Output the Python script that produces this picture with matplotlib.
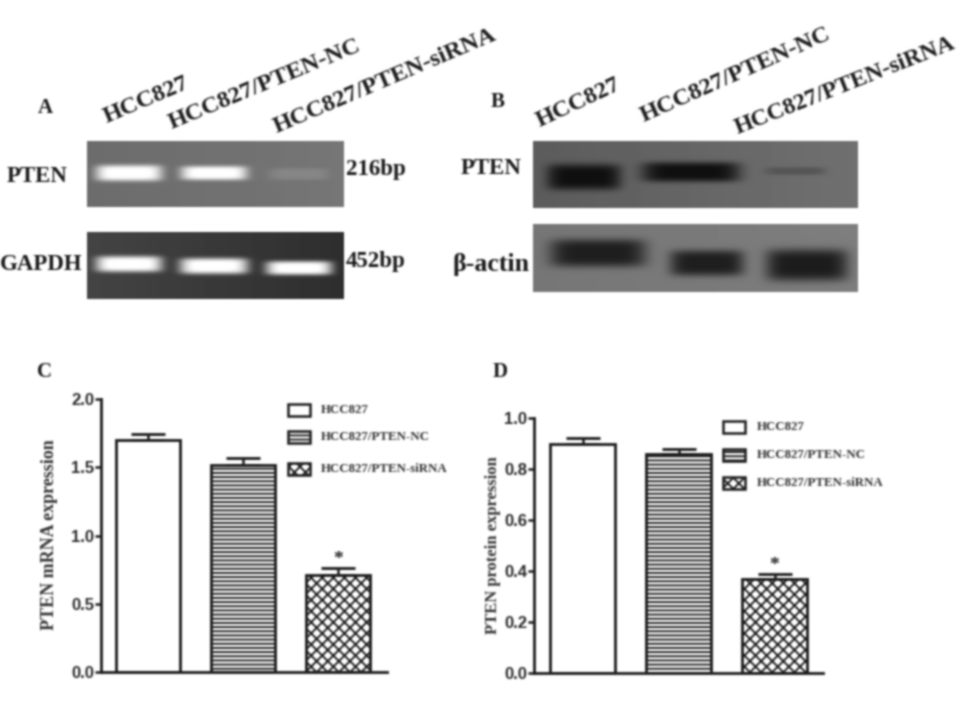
import numpy as np
import matplotlib
matplotlib.use("Agg")
import matplotlib.pyplot as plt
from matplotlib.patches import Rectangle

plt.rcParams["font.family"] = ["Liberation Serif", "DejaVu Serif"]
plt.rcParams["hatch.linewidth"] = 1.35
plt.rcParams["hatch.color"] = "#1c1c1c"

W, H = 960, 720

groups = ["HCC827", "HCC827/PTEN-NC", "HCC827/PTEN-siRNA"]
hatches = [None, "----", "xxx"]

mrna_vals = [1.70, 1.52, 0.71]
mrna_err = [0.04, 0.05, 0.05]
mrna_ticks = [0.0, 0.5, 1.0, 1.5, 2.0]

protein_vals = [0.90, 0.86, 0.37]
protein_err = [0.02, 0.02, 0.02]
protein_ticks = [0.0, 0.2, 0.4, 0.6, 0.8, 1.0]

# gel / blot bands: centre x, centre y, half width, half height, peak grey
bands_pten_gel = [(129, 173, 33, 8, 262), (214, 173, 33, 7, 262), (299, 174, 30, 6, 135)]
bands_gapdh_gel = [(129, 264, 33, 8, 262), (214, 266, 34, 8, 262), (299, 268, 33, 7, 262)]
bands_pten_wb = [(584, 177, 37, 13, 15), (691, 172, 49, 10, 15), (795, 171, 30, 4, 85)]
bands_actin_wb = [(598, 253, 48, 14, 30), (707, 263, 37, 13, 30), (807, 265, 41, 16, 28)]


def px_axes(fig, left, right, top, bottom):
    return fig.add_axes([left / W, 1 - bottom / H, (right - left) / W, (bottom - top) / H])


def blur(image, dpi):
    # the reference is a soft, low-quality scan
    kernel = np.array([0.06, 0.24, 0.4, 0.24, 0.06])
    out = image
    for axis in (0, 1):
        pad = [(2, 2) if a == axis else (0, 0) for a in range(3)]
        padded = np.pad(out, pad, mode="edge")
        out = np.apply_along_axis(lambda r: np.convolve(r, kernel, mode="valid"), axis, padded)
    return out, 0, 0


def draw_blot(ax, x0, x1, y0, y1, bg_left, bg_right, bands):
    xs = np.arange(x0, x1) + 0.5
    ys = np.arange(y0, y1) + 0.5
    xx, yy = np.meshgrid(xs, ys)
    img = bg_left + (bg_right - bg_left) * (xx - x0) / (x1 - x0)
    for cx, cy, hw, hh, peak in bands:
        prof = np.exp(-np.abs((xx - cx) / hw) ** 6 - np.abs((yy - cy) / hh) ** 4)
        img = img + (peak - img) * prof
    ax.imshow(img, cmap="gray", vmin=0, vmax=255, extent=(x0, x1, y1, y0),
              aspect="auto", interpolation="bilinear", zorder=1)


def bar_panel(fig, box, xlim, vals, errs, ticks, ylim, ylabel, label_xy, fs):
    ax = px_axes(fig, *box)
    xpos = np.arange(len(vals))
    for i, v in enumerate(vals):
        ax.bar(xpos[i], v, width=0.68, facecolor="white", edgecolor="#1c1c1c",
               linewidth=2.0, hatch=hatches[i], zorder=2)
    ax.errorbar(xpos, vals, yerr=[np.zeros(len(errs)), errs], fmt="none", ecolor="#1c1c1c",
                elinewidth=1.8, capsize=12, capthick=2.0, zorder=1)
    ax.set_xlim(*xlim)
    ax.set_ylim(*ylim)
    ax.set_xticks([])
    ax.set_yticks(ticks)
    ax.set_yticklabels([f"{t:.1f}" for t in ticks], family="Liberation Sans",
                       fontweight="bold", fontsize=12, color="#2a2a2a")
    ax.tick_params(axis="y", length=4.5, width=1.8, pad=0.5, color="#1c1c1c")
    for s in ["top", "right"]:
        ax.spines[s].set_visible(False)
    for s in ["left", "bottom"]:
        ax.spines[s].set_linewidth(2.0)
        ax.spines[s].set_color("#1c1c1c")
    ax.patch.set_alpha(0)
    # asterisk above the knock-down bar
    ax.text(xpos[2], vals[2] + errs[2], "*", ha="center", va="bottom",
            fontsize=14, fontweight="bold", color="#222222")
    fig.text(label_xy[0] / W, 1 - label_xy[1] / H, ylabel, rotation=90, ha="center", va="center",
             fontsize=fs, fontweight="bold", color="#333333")
    return ax


fig = plt.figure(figsize=(W / 100, H / 100), dpi=100, facecolor="white")

# overlay in pixel coordinates for blots, labels and legends
ov = fig.add_axes([0, 0, 1, 1])
ov.set_xlim(0, W)
ov.set_ylim(H, 0)
ov.axis("off")

draw_blot(ov, 87, 344, 141, 207, 108, 118, bands_pten_gel)
draw_blot(ov, 87, 344, 232, 299, 68, 46, bands_gapdh_gel)
draw_blot(ov, 533, 858, 141, 208, 92, 112, bands_pten_wb)
draw_blot(ov, 533, 858, 224, 292, 118, 126, bands_actin_wb)
ov.set_xlim(0, W)
ov.set_ylim(H, 0)

ink = "#1a1a1a"
for x, y, s in [(45, 108, "A"), (498, 102, "B"), (44, 372, "C"), (500, 372, "D")]:
    ov.text(x, y, s, ha="center", va="center", fontsize=15, fontweight="bold", color=ink)

for x, y, ang, fs, s in [(107, 123, 23, 17.6, groups[0]), (172, 129, 22.5, 17.6, groups[1]),
                         (277, 133, 23, 17.6, groups[2]), (540, 127, 25, 17.6, groups[0]),
                         (644, 122, 24, 17.6, groups[1]), (738, 134, 21.5, 17.2, groups[2])]:
    ov.text(x, y, s, rotation=ang, rotation_mode="anchor", ha="left", va="baseline",
            fontsize=fs, fontweight="bold", color=ink)

for x, y, ha, fs, s in [(37, 176, "center", 16.5, "PTEN"), (41, 265, "center", 16.5, "GAPDH"),
                        (346, 169, "left", 16.5, "216bp"), (346, 261, "left", 16.5, "452bp"),
                        (491, 168, "center", 16.5, "PTEN"), (452, 264, "left", 18.5, "β-actin")]:
    ov.text(x, y, s, ha=ha, va="center", fontsize=fs, fontweight="bold", color=ink)

bar_panel(fig, (101, 387, 399, 672), (-0.495, 2.516), mrna_vals, mrna_err, mrna_ticks, (0, 2.0),
          "PTEN mRNA expression", (50, 535), 13)
bar_panel(fig, (534, 823, 418, 673), (-0.51, 2.506), protein_vals, protein_err, protein_ticks, (0, 1.0),
          "PTEN protein expression", (493, 545), 12)

# legends
for x0, text_x, rows in [(288, 321, (410, 437, 469)), (723, 757, (427, 455, 483))]:
    for y, name, h in zip(rows, groups, hatches):
        ov.add_patch(Rectangle((x0, y - 6), 22, 12, facecolor="white", edgecolor="#1c1c1c",
                               linewidth=1.8, hatch=h))
        ov.text(text_x, y, name, ha="left", va="center", fontsize=9.3, fontweight="bold", color="#333333")

fig.set_agg_filter(blur)
fig.savefig("out.png", dpi=100)
